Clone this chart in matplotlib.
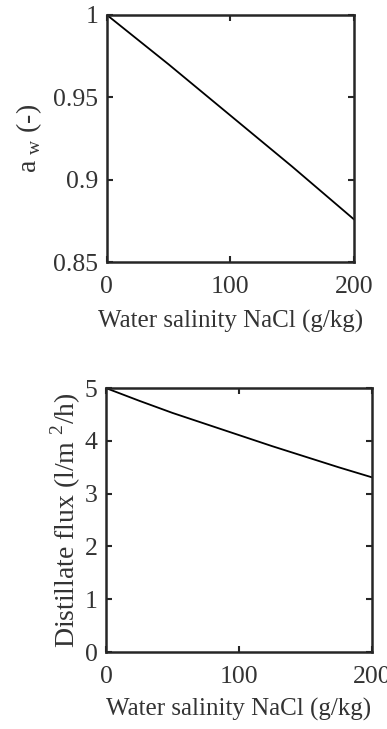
import matplotlib
matplotlib.use("Agg")
import matplotlib.pyplot as plt

# data
salinity = [0, 25, 50, 75, 100, 125, 150, 175, 200]
aw = [1.0, 0.985, 0.970, 0.9545, 0.939, 0.9235, 0.908, 0.892, 0.876]
flux = [5.0, 4.76, 4.53, 4.32, 4.11, 3.90, 3.70, 3.50, 3.31]

plt.rcParams.update({"font.family": "Liberation Serif", "mathtext.fontset": "custom",
                     "mathtext.rm": "Liberation Serif", "font.size": 18})
txt = "#333333"

fig = plt.figure(figsize=(3.87, 7.29), dpi=100)
ax1 = fig.add_axes([0.276, 0.6406, 0.638, 0.339])
ax2 = fig.add_axes([0.274, 0.1056, 0.687, 0.362])

ax1.plot(salinity, aw, "-k", lw=1.3)
ax1.set_xlim(0, 200)
ax1.set_ylim(0.85, 1)
ax1.set_yticks([0.85, 0.9, 0.95, 1])
ax1.set_yticklabels(["0.85", "0.9", "0.95", "1"])
ax1.set_ylabel(r"a$_\mathregular{\ w}$ (-)", color=txt, fontsize=20)
ax1.yaxis.set_label_coords(-0.255, 0.5)

ax2.plot(salinity, flux, "-k", lw=1.3)
ax2.set_xlim(0, 200)
ax2.set_ylim(0, 5)
ax2.set_yticks([0, 1, 2, 3, 4, 5])
ax2.set_ylabel(r"Distillate flux (l/m $^\mathregular{2}$/h)", color=txt, fontsize=20)
ax2.yaxis.set_label_coords(-0.085, 0.5)

for ax, lp in ((ax1, 9), (ax2, 7)):
    ax.set_xticks([0, 100, 200])
    ax.set_xlabel("Water salinity NaCl (g/kg)", color=txt, fontsize=18, labelpad=lp)
    ax.tick_params(direction="in", top=True, right=True, length=4, width=1.5,
                   colors="#262626", labelcolor=txt, labelsize=18.5)
    ax.tick_params(axis="x", pad=10)
    ax.tick_params(axis="y", pad=6)
    for s in ax.spines.values():
        s.set_linewidth(1.8)
        s.set_color("#262626")

fig.savefig("out.png", dpi=100)
